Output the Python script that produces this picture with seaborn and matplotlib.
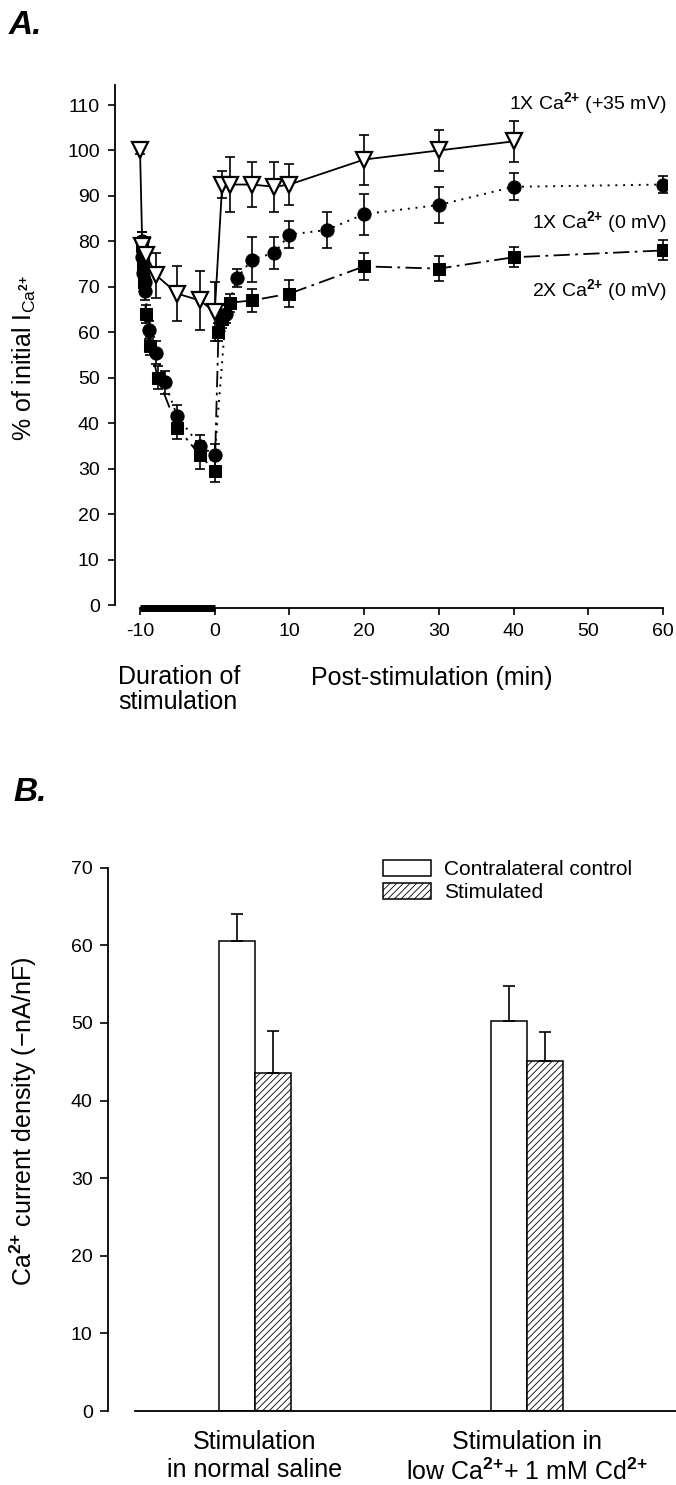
import numpy as np
import pandas as pd
import matplotlib
matplotlib.use('Agg')
import matplotlib.pyplot as plt
import seaborn as sns
from matplotlib.patches import Patch
from matplotlib.container import BarContainer

# ---- panel A data (time in min, % of initial I_Ca, s.e.m.) ----
tri_x = [-10, -9.7, -9.2, -7.8, -5, -2, 0, 1, 2, 5, 8, 10, 20, 30, 40]
tri_y = [100, 79, 77, 72.5, 68.5, 67, 64.5, 92.5, 92.5, 92.5, 92, 92.5, 98, 100, 102]
tri_e = [0.8, 3, 4, 5, 6, 6.5, 6.5, 3, 6, 5, 5.5, 4.5, 5.5, 4.5, 4.5]

circ_x = [-9.8, -9.7, -9.6, -9.4, -9.3, -8.8, -7.8, -6.7, -5, -2, 0, 1.5, 3, 5, 8, 10, 15, 20, 30, 40, 60]
circ_y = [80, 76.5, 73, 71, 69, 60.5, 55.5, 49, 41.5, 35, 33, 64, 72, 76, 77.5, 81.5, 82.5, 86, 88, 92, 92.5]
circ_e = [2, 2, 2, 2, 2, 2, 2.5, 2.5, 2.5, 2.5, 2.5, 2, 2, 5, 3.5, 3, 4, 4.5, 4, 3, 1.8]

sq_x = [-9.8, -9.6, -9.5, -9.2, -8.7, -7.6, -5, -2, 0, 0.5, 1, 2, 5, 10, 20, 30, 40, 60]
sq_y = [79, 75, 71, 64, 57, 50, 39, 33, 29.5, 60, 63, 66.5, 67, 68.5, 74.5, 74, 76.5, 78]
sq_e = [2, 2, 2, 2, 2, 2.5, 2.5, 3, 2.5, 2, 2, 2, 2.5, 3, 3, 2.7, 2.2, 2.2]

CA = 'Ca$^{\\mathbf{2{+}}}$'
series_labels = ['1X ' + CA + ' (+35 mV)',
                 '1X ' + CA + ' (0 mV)',
                 '2X ' + CA + ' (0 mV)']
label_y = [110.5, 84.3, 69.3]

# ---- panel B data ----
conditions = ['Stimulation\nin normal saline',
              'Stimulation in\nlow ' + CA + '+ 1 mM Cd$^{\\mathbf{2{+}}}$']
groups = ['Contralateral control', 'Stimulated']
density = [[60.6, 43.6], [50.2, 45.1]]
density_err = [[3.4, 5.3], [4.5, 3.7]]

sns.set_style('ticks')
plt.rcParams['font.family'] = ['Liberation Sans', 'DejaVu Sans']
plt.rcParams['mathtext.fontset'] = 'custom'
plt.rcParams['mathtext.rm'] = 'Liberation Sans'
plt.rcParams['mathtext.bf'] = 'Liberation Sans:bold'
plt.rcParams['mathtext.it'] = 'Liberation Sans:italic'
plt.rcParams['mathtext.default'] = 'regular'
plt.rcParams['axes.unicode_minus'] = False
plt.rcParams['text.color'] = 'k'
plt.rcParams['axes.labelcolor'] = 'k'
plt.rcParams['xtick.color'] = 'k'
plt.rcParams['ytick.color'] = 'k'
plt.rcParams['axes.edgecolor'] = 'k'
plt.rcParams['hatch.linewidth'] = 0.6
plt.rcParams['axes.linewidth'] = 1.3

W, H = 676, 1485
fig = plt.figure(figsize=(W / 100, H / 100), dpi=100)


def box(l, t, r, b):
    return [l / W, 1 - b / H, (r - l) / W, (b - t) / H]


# ================= panel A =================
axA = fig.add_axes(box(115, 85, 667, 608))

axA.errorbar(sq_x, sq_y, yerr=sq_e, fmt='none', ecolor='k', elinewidth=1.2,
             capsize=3.6, capthick=1.2, zorder=2)
sns.lineplot(x=sq_x, y=sq_y, ax=axA, color='k', marker='s', markersize=8.5,
             markerfacecolor='k', markeredgecolor='k', linewidth=1.3,
             linestyle=(0, (9, 3, 1.5, 3)), estimator=None, sort=False, zorder=3)

axA.errorbar(circ_x, circ_y, yerr=circ_e, fmt='none', ecolor='k', elinewidth=1.2,
             capsize=3.6, capthick=1.2, zorder=2)
sns.lineplot(x=circ_x, y=circ_y, ax=axA, color='k', marker='o', markersize=9.5,
             markerfacecolor='k', markeredgecolor='k', linewidth=1.4,
             linestyle=(0, (1, 3)), estimator=None, sort=False, zorder=3)

axA.errorbar(tri_x, tri_y, yerr=tri_e, fmt='none', ecolor='k', elinewidth=1.2,
             capsize=3.6, capthick=1.2, zorder=4)
sns.lineplot(x=tri_x, y=tri_y, ax=axA, color='k', marker='v', markersize=11,
             markerfacecolor='white', markeredgecolor='k', markeredgewidth=1.6,
             linewidth=1.3, estimator=None, sort=False, zorder=5)

for txt, yy in zip(series_labels, label_y):
    axA.text(60.5, yy, txt, ha='right', va='center', fontsize=14)

# stimulation period bar
axA.plot([-10, 0], [0, 0], transform=axA.get_xaxis_transform(), color='k',
         lw=5, solid_capstyle='butt', clip_on=False, zorder=6)

axA.set_xlim(-13.35, 60.54)
axA.set_ylim(-0.66, 114.4)
axA.set_xticks(np.arange(-10, 61, 10))
axA.set_yticks(np.arange(0, 111, 10))
axA.spines['top'].set_visible(False)
axA.spines['right'].set_visible(False)
axA.spines['left'].set_bounds(0, 114.4)
axA.spines['bottom'].set_bounds(-10, 60)
axA.tick_params(axis='both', labelsize=14, length=5, width=1.2, pad=6, color='k')
axA.set_xlabel('')
axA.set_ylabel('')

fig.text(24 / W, 1 - 358 / H, '% of initial I$_{Ca^{\\mathbf{2{+}}}}$', rotation=90,
         ha='center', va='center', fontsize=18)
fig.text(118 / W, 1 - 665 / H, 'Duration of\nstimulation', ha='left', va='top',
         fontsize=18, linespacing=1.05)
fig.text(311 / W, 1 - 685 / H, 'Post-stimulation (min)', ha='left', va='baseline',
         fontsize=18)
fig.text(9 / W, 1 - 34 / H, 'A.', fontsize=24, fontweight='bold', fontstyle='italic',
         va='baseline')

# ================= panel B =================
axB = fig.add_axes(box(108, 867.7, 676, 1411))

dfB = pd.DataFrame({
    'condition': np.repeat(conditions, len(groups)),
    'group': groups * len(conditions),
    'density': np.ravel(density),
})
sns.barplot(data=dfB, x='condition', y='density', hue='group', order=conditions,
            hue_order=groups, palette=['white', 'white'], edgecolor='k',
            linewidth=1.1, width=0.265, gap=0, errorbar=None, legend=False, ax=axB)

errs = np.array(density_err)
bar_conts = [c for c in axB.containers if isinstance(c, BarContainer)]
for gi, cont in enumerate(bar_conts):
    for ci, bar in enumerate(cont.patches):
        if gi == 1:
            bar.set_hatch('/////')
        cx = bar.get_x() + bar.get_width() / 2
        axB.errorbar(cx, bar.get_height(), yerr=[[0], [errs[ci][gi]]], fmt='none',
                     ecolor='k', elinewidth=1.2, capsize=4.3, capthick=1.2, zorder=1)

handles = [Patch(facecolor='white', edgecolor='k', linewidth=1.1, label=groups[0]),
           Patch(facecolor='white', edgecolor='k', linewidth=1.1, hatch='/////',
                 label=groups[1])]
axB.legend(handles=handles, loc='upper left', bbox_to_anchor=(0.47, 1.03),
           frameon=False, fontsize=15, handlelength=2.3, handleheight=0.8,
           handletextpad=0.6, labelspacing=0.2, borderaxespad=0)

axB.set_xlim(-0.54, 1.548)
axB.set_ylim(0, 70)
axB.set_yticks(np.arange(0, 71, 10))
axB.spines['top'].set_visible(False)
axB.spines['right'].set_visible(False)
axB.spines['left'].set_bounds(0, 70)
axB.spines['bottom'].set_bounds(-0.441, 1.548)
axB.tick_params(axis='y', labelsize=14, length=6, width=1.2, pad=5)
axB.tick_params(axis='x', labelsize=18, length=0, pad=14)
axB.set_xlabel('')
axB.set_ylabel('')

fig.text(23 / W, 1 - 1121 / H, CA + ' current density (\u2212nA/nF)',
         rotation=90, ha='center', va='center', fontsize=18)
fig.text(13 / W, 1 - 801 / H, 'B.', fontsize=24, fontweight='bold', fontstyle='italic',
         va='baseline')

fig.savefig('out.png', dpi=100)
